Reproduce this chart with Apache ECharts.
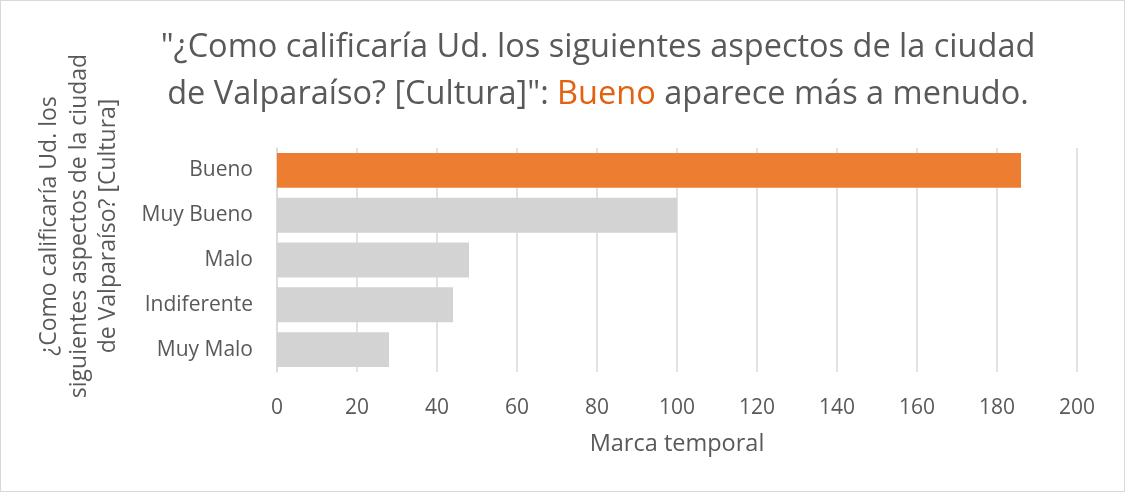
<!DOCTYPE html>
<html><head><meta charset="utf-8">
<script src="https://cdn.jsdelivr.net/npm/echarts@6/dist/echarts.min.js"></script>
<style>html,body{margin:0;padding:0;background:#fff}#c{width:1125px;height:492px;box-sizing:border-box;border:1px solid #d9d9d9}</style>
</head><body><div id="c"></div>
<script>
const categories = ["Bueno", "Muy Bueno", "Malo", "Indiferente", "Muy Malo"];
const values = [186, 100, 48, 44, 28];
const highlight = "Bueno";
const xTicks = [0, 20, 40, 60, 80, 100, 120, 140, 160, 180, 200];

const chart = echarts.init(document.getElementById('c'));
const font = '"Open Sans", sans-serif';
chart.setOption({
  animation: false,
  title: {
    text: '{a|"¿Como calificaría Ud. los siguientes aspectos de la ciudad}\n{a|de Valparaíso? [Cultura]": }{b|Bueno}{a| aparece más a menudo.}',
    left: 592, top: 18, textAlign: 'center',
    textStyle: {
      fontWeight: 'normal',
      rich: {
        a: {fontFamily: font, fontSize: 32.5, fontWeight: 'normal', color: '#595959', lineHeight: 47},
        b: {fontFamily: font, fontSize: 32.5, fontWeight: 'normal', color: '#E3610F', lineHeight: 47}
      }
    }
  },
  grid: {left: 276, right: 47, top: 147, bottom: 119, containLabel: false},
  xAxis: {
    type: 'value', min: 0, max: 200, interval: 20,
    axisLine: {show: false}, axisTick: {show: false},
    splitLine: {lineStyle: {color: '#d9d9d9', width: 1.5}},
    axisLabel: {fontFamily: font, fontSize: 21, color: '#595959', margin: 26},
    name: 'Marca temporal', nameLocation: 'middle', nameGap: 60,
    nameTextStyle: {fontFamily: font, fontSize: 23.5, color: '#595959'}
  },
  yAxis: {
    type: 'category', data: categories, inverse: true,
    axisLine: {show: true, lineStyle: {color: '#d9d9d9', width: 1.5}},
    axisTick: {show: false},
    axisLabel: {fontFamily: font, fontSize: 21, color: '#595959', margin: 24}
  },
  graphic: [{
    type: 'text', x: 78, y: 225, rotation: Math.PI / 2, silent: true,
    style: {
      text: '¿Como calificaría Ud. los\nsiguientes aspectos de la ciudad\nde Valparaíso? [Cultura]',
      font: '23px "Open Sans", sans-serif', fill: '#595959',
      align: 'center', verticalAlign: 'middle', lineHeight: 29.5
    }
  }],
  series: [{
    type: 'bar', barCategoryGap: '22%',
    data: values.map((v, i) => ({value: v, itemStyle: {color: categories[i] === highlight ? '#ED7D31' : '#D3D3D3'}}))
  }]
});
</script></body></html>
